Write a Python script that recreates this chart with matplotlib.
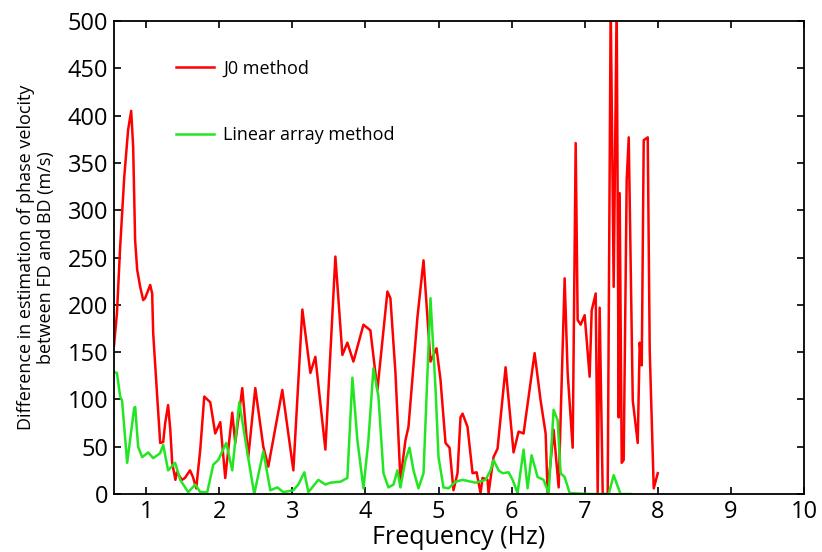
import matplotlib
matplotlib.use("Agg")
import matplotlib.pyplot as plt

plt.rcParams['font.family'] = ['Open Sans', 'DejaVu Sans']

# J0 method (red)
f_j0 = [0.56, 0.60, 0.644, 0.70, 0.753, 0.795, 0.822, 0.849, 0.877, 0.918, 0.959, 0.986,
        1.055, 1.082, 1.096, 1.151, 1.192, 1.233, 1.26, 1.30, 1.33, 1.356, 1.40, 1.42,
        1.49, 1.53, 1.60, 1.64, 1.685, 1.74, 1.795, 1.877, 1.945, 2.014, 2.082, 2.178,
        2.219, 2.315, 2.397, 2.493, 2.603, 2.671, 2.863, 3.014, 3.137, 3.247, 3.315,
        3.452, 3.589, 3.685, 3.753, 3.836, 3.973, 4.068, 4.164, 4.301, 4.342, 4.411,
        4.479, 4.548, 4.589, 4.712, 4.795, 4.890, 4.973, 5.027, 5.096, 5.151, 5.205,
        5.260, 5.301, 5.329, 5.397, 5.466, 5.521, 5.575, 5.603, 5.671, 5.685, 5.753,
        5.808, 5.918, 6.027, 6.096, 6.164, 6.315, 6.397, 6.466, 6.493, 6.575, 6.644,
        6.726, 6.767, 6.836, 6.877, 6.904, 6.945, 7.0, 7.068, 7.096, 7.151, 7.178,
        7.205, 7.247, 7.315, 7.356, 7.397, 7.438, 7.466, 7.479, 7.507, 7.534, 7.575,
        7.603, 7.658, 7.726, 7.753, 7.781, 7.808, 7.863, 7.890, 7.945, 8.0]
v_j0 = [157, 191, 261, 335, 385, 405, 367, 268, 237, 219, 205, 207,
        221, 212, 170, 103, 54, 55, 75, 94, 68, 33, 15, 23,
        15, 17, 25, 18, 6, 47, 103, 97, 64, 76, 17, 86,
        54, 112, 39, 112, 50, 29, 110, 25, 195, 128, 145,
        47, 251, 147, 160, 140, 179, 173, 110, 214, 207, 128,
        15, 57, 71, 187, 247, 140, 154, 121, 54, 49, 4,
        22, 81, 85, 71, 22, 23, 1, 17, 15, 1, 39,
        48, 134, 44, 66, 64, 149, 99, 64, 1, 68, 7,
        228, 128, 49, 371, 184, 179, 189, 124, 194, 212, 0,
        197, 0, 0, 520, 219, 520, 81, 318, 33, 36, 332,
        377, 99, 54, 160, 136, 374, 377, 152, 6, 22]

# Linear array method (green)
f_lin = [0.56, 0.60, 0.644, 0.67, 0.74, 0.836, 0.85, 0.89, 0.945, 1.027, 1.096, 1.19,
         1.233, 1.30, 1.397, 1.466, 1.575, 1.671, 1.74, 1.836, 1.918, 1.986, 2.096,
         2.178, 2.274, 2.384, 2.479, 2.603, 2.699, 2.795, 2.877, 3.014, 3.082, 3.164,
         3.219, 3.356, 3.452, 3.52, 3.658, 3.753, 3.822, 3.89, 3.973, 4.041, 4.11,
         4.178, 4.247, 4.315, 4.384, 4.438, 4.479, 4.548, 4.603, 4.658, 4.726, 4.795,
         4.849, 4.89, 4.959, 5.0, 5.068, 5.137, 5.233, 5.329, 5.507, 5.644, 5.712,
         5.753, 5.822, 5.877, 5.959, 6.014, 6.082, 6.164, 6.219, 6.274, 6.356, 6.438,
         6.507, 6.575, 6.63, 6.671, 6.726, 6.795, 7.08, 7.329, 7.397, 7.49, 7.63]
v_lin = [129, 128, 103, 99, 33, 91, 92, 50, 39, 44, 38, 43,
         52, 25, 33, 15, 2, 10, 2, 2, 31, 36, 54,
         25, 97, 44, 0, 45, 4, 7, 2, 4, 10, 23,
         2, 15, 10, 12, 13, 17, 123, 57, 6, 57, 133,
         103, 22, 7, 10, 25, 7, 36, 49, 25, 6, 22,
         128, 207, 112, 39, 7, 6, 13, 15, 12, 15, 25,
         36, 25, 22, 23, 15, 1, 47, 6, 41, 18, 15,
         1, 89, 78, 22, 18, 1, 0, 0, 20, 0, 0]

fig = plt.figure(figsize=(8.22, 5.52), dpi=100)
ax = fig.add_axes([0.1387, 0.105, 0.8393, 0.857])

ax.plot(f_j0, v_j0, color='#ff0000', lw=1.8, label='J0 method')
ax.plot(f_lin, v_lin, color='#22e622', lw=1.8, label='Linear array method')

ax.set_xlim(0.56, 10)
ax.set_ylim(0, 500)
ax.set_xticks(range(1, 11))
ax.set_yticks(range(0, 501, 50))
ax.tick_params(direction='in', top=True, right=True, length=5, width=1.2,
               labelsize=17, pad=4)
for s in ax.spines.values():
    s.set_linewidth(1.3)

ax.set_xlabel("Frequency (Hz)", fontsize=18, labelpad=1)
ax.set_ylabel("Difference in estimation of phase velocity\nbetween FD and BD (m/s)",
              fontsize=13, labelpad=9)

ax.legend(loc='upper left', bbox_to_anchor=(0.067, 0.953), frameon=False, fontsize=13,
          handlelength=2.1, handletextpad=0.5, labelspacing=2.7)

fig.savefig("out.png", dpi=100)
